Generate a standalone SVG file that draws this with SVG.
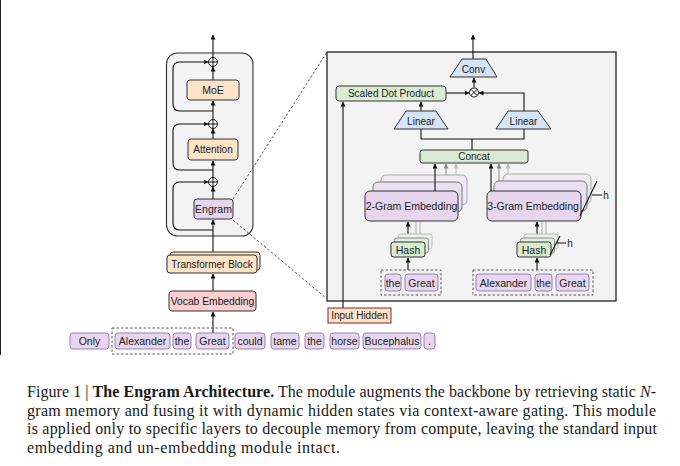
<svg xmlns="http://www.w3.org/2000/svg" width="680" height="466" viewBox="0 0 680 466">
<defs>
<marker id="ah" viewBox="0 0 10 10" refX="9" refY="5" markerWidth="5" markerHeight="5" orient="auto" markerUnits="userSpaceOnUse"><path d="M0,0 L10,5 L0,10 z" fill="#111"/></marker>
<marker id="ahg" viewBox="0 0 10 10" refX="9" refY="5" markerWidth="5" markerHeight="5" orient="auto" markerUnits="userSpaceOnUse"><path d="M0,0 L10,5 L0,10 z" fill="#888"/></marker>
<marker id="ahl" viewBox="0 0 10 10" refX="9" refY="5" markerWidth="5" markerHeight="5" orient="auto" markerUnits="userSpaceOnUse"><path d="M0,0 L10,5 L0,10 z" fill="#bbb"/></marker>
<style>
text{font-family:"Liberation Sans",Arial,sans-serif;fill:#222}
.lbl{font-size:10px;text-anchor:middle;dominant-baseline:central}
.tok{font-size:10.5px;text-anchor:middle;dominant-baseline:central}
.peach{fill:#fde3c8;stroke:#333;stroke-width:1}
.lav{fill:#e5d6ed;stroke:#333;stroke-width:1}
.lav2{fill:#ebe0f1;stroke:#777;stroke-width:1}
.lav3{fill:#f0e9f4;stroke:#aaa;stroke-width:1}
.tokr{fill:#e6d7ee;stroke:#9c7fb1;stroke-width:1}
.green{fill:#d9ecd3;stroke:#333;stroke-width:1}
.green2{fill:#e2f0de;stroke:#888;stroke-width:1}
.green3{fill:#eaf3e7;stroke:#bbb;stroke-width:1}
.blue{fill:#d5e4f6;stroke:#333;stroke-width:1}
.pink{fill:#f9cfcf;stroke:#333;stroke-width:1}
.ln{fill:none;stroke:#111;stroke-width:1.1}
.arr{fill:none;stroke:#111;stroke-width:1.1;marker-end:url(#ah)}
.arrg{fill:none;stroke:#888;stroke-width:1;marker-end:url(#ahg)}
.arrl{fill:none;stroke:#bbb;stroke-width:1;marker-end:url(#ahl)}
.gl{fill:none;stroke:#aaa;stroke-width:1}
.dash{fill:none;stroke:#555;stroke-width:1;stroke-dasharray:2.5,2}
.cap{font-family:"Liberation Serif","Times New Roman",serif;font-size:16px;fill:#1a1a1a}
</style>
</defs>

<line x1="0.5" y1="0" x2="0.5" y2="355" stroke="#222" stroke-width="1"/>

<!-- left backbone panel -->
<g id="backbone">
<rect x="166.5" y="53" width="86.5" height="183" rx="11" fill="#f3f3f3" stroke="#333" stroke-width="1.1"/>
</g>
<!-- right engram panel -->
<g id="engram-panel">
<rect x="327" y="52" width="289" height="249" fill="#f3f3f3" stroke="#333" stroke-width="1.4"/>
</g>

<g id="connectors">
<!-- zoom dashed lines -->
<line class="dash" x1="233" y1="199" x2="327" y2="52"/>
<line class="dash" x1="233" y1="220" x2="326" y2="298"/>
<!-- backbone main axis -->
<line class="arr" x1="213" y1="57.5" x2="213" y2="35"/>
<line class="arr" x1="213" y1="80" x2="213" y2="67"/>
<line class="arr" x1="213" y1="139" x2="213" y2="129"/>
<line class="arr" x1="213" y1="199" x2="213" y2="187"/>
<line class="arr" x1="213" y1="120" x2="213" y2="101"/>
<line class="arr" x1="213" y1="178" x2="213" y2="161"/>
<line class="arr" x1="213" y1="252" x2="213" y2="220"/>
<line class="arr" x1="213" y1="333" x2="213" y2="312"/>
<line class="arr" x1="213" y1="291" x2="213" y2="274"/>
<!-- skip loops -->
<path class="arr" d="M213,111 H180 Q173,111 173,104 V69 Q173,62 180,62 H208"/>
<path class="arr" d="M213,170 H180 Q173,170 173,163 V131 Q173,124 180,124 H208"/>
<path class="arr" d="M213,230 H180 Q173,230 173,223 V189 Q173,182 180,182 H208"/>

<!-- engram internals -->
<line class="arr" x1="473" y1="60" x2="473" y2="35"/>
<line class="arr" x1="474" y1="87.5" x2="474" y2="78"/>
<line class="arr" x1="446" y1="93" x2="469" y2="93"/>
<path class="arr" d="M524,111 V93 H479"/>
<line class="arr" x1="421" y1="111" x2="421" y2="102"/>
<path class="ln" d="M421,129 V139 H524 V129 M472,139 V150"/>
<line class="arr" x1="343" y1="308" x2="343" y2="102"/>
<!-- to concat -->
<line class="arrl" x1="456" y1="175" x2="456" y2="164"/>
<line class="arrg" x1="446" y1="182" x2="446" y2="164"/>
<line class="arrl" x1="508" y1="174" x2="508" y2="164"/>
<line class="arrg" x1="499" y1="181" x2="499" y2="164"/>
<!-- hash to embedding -->
<line class="gl" x1="416" y1="238" x2="416" y2="221"/>
<line class="gl" x1="420" y1="234" x2="420" y2="221"/>
<line class="arr" x1="408" y1="242" x2="408" y2="222"/>
<line class="gl" x1="542" y1="238" x2="542" y2="221"/>
<line class="gl" x1="546" y1="234" x2="546" y2="221"/>
<line class="arr" x1="537" y1="242" x2="537" y2="222"/>
<!-- tokens to hash -->
<line class="arr" x1="408" y1="270" x2="408" y2="258"/>
<line class="arr" x1="537" y1="270" x2="537" y2="258"/>
</g>

<!-- plus circles -->
<g id="add1"><circle cx="213" cy="62" r="4.5" fill="#fff" stroke="#111" stroke-width="1"/><path d="M208.5,62 H217.5 M213,57.5 V66.5" stroke="#111" stroke-width="1"/></g>
<g id="add2"><circle cx="213" cy="124" r="4.5" fill="#fff" stroke="#111" stroke-width="1"/><path d="M208.5,124 H217.5 M213,119.5 V128.5" stroke="#111" stroke-width="1"/></g>
<g id="add3"><circle cx="213" cy="182" r="4.5" fill="#fff" stroke="#111" stroke-width="1"/><path d="M208.5,182 H217.5 M213,177.5 V186.5" stroke="#111" stroke-width="1"/></g>

<g id="moe"><rect class="peach" x="187" y="80" width="52" height="20" rx="3"/><text class="lbl" x="213" y="90" style="font-size:10.5px">MoE</text></g>
<g id="attention"><rect class="peach" x="188" y="139" width="50" height="21" rx="3"/><text class="lbl" x="213" y="149.5">Attention</text></g>
<g id="engram"><rect class="lav" x="194" y="199" width="39" height="20" rx="3"/><text class="lbl" x="213.5" y="209" style="font-size:10.5px">Engram</text></g>
<g id="transformer-block">
<rect class="peach" x="170" y="252" width="90" height="18" rx="3"/>
<rect class="peach" x="167" y="255" width="90" height="18" rx="3"/>
<text class="lbl" x="212" y="264">Transformer Block</text></g>
<g id="vocab-embedding"><rect class="pink" x="169" y="291" width="87" height="20" rx="3"/><text class="lbl" x="212.5" y="301" style="font-size:10.3px">Vocab Embedding</text></g>

<!-- token row -->
<g id="tokens">
<rect class="dash" x="112" y="328" width="121" height="26"/>
<rect class="tokr" x="70" y="333" width="39" height="16" rx="3"/><text class="tok" x="89.5" y="341">Only</text>
<rect class="tokr" x="115" y="333" width="55" height="16" rx="3"/><text class="tok" x="142.5" y="341">Alexander</text>
<rect class="tokr" x="173" y="333" width="18" height="16" rx="3"/><text class="tok" x="182" y="341">the</text>
<rect class="tokr" x="196" y="333" width="33" height="16" rx="3"/><text class="tok" x="212.5" y="341">Great</text>
<rect class="tokr" x="235" y="333" width="30" height="16" rx="3"/><text class="tok" x="250" y="341">could</text>
<rect class="tokr" x="271" y="333" width="28" height="16" rx="3"/><text class="tok" x="285" y="341">tame</text>
<rect class="tokr" x="305" y="333" width="19" height="16" rx="3"/><text class="tok" x="314.5" y="341">the</text>
<rect class="tokr" x="330" y="333" width="29" height="16" rx="3"/><text class="tok" x="344.5" y="341">horse</text>
<rect class="tokr" x="363" y="333" width="58" height="16" rx="3"/><text class="tok" x="392" y="341">Bucephalus</text>
<rect class="tokr" x="424" y="333" width="11" height="16" rx="3"/><text class="tok" x="429.5" y="341">.</text>
</g>

<!-- engram module nodes -->
<g id="conv"><path class="blue" d="M462,59 H486 L497,77 H450 Z"/><text class="lbl" x="473.5" y="69.5">Conv</text></g>
<g id="gate"><circle cx="474" cy="92.5" r="4.5" fill="#fff" stroke="#111" stroke-width="1"/><path d="M470.8,89.3 L477.2,95.7 M477.2,89.3 L470.8,95.7" stroke="#111" stroke-width="1"/></g>
<g id="sdp"><rect class="green" x="336" y="86" width="110" height="15" rx="3"/><text class="lbl" x="391" y="93.5">Scaled Dot Product</text></g>
<g id="linear-left"><path class="blue" d="M406,111 H436 L448,129 H394 Z"/><text class="lbl" x="421" y="121">Linear</text></g>
<g id="linear-right"><path class="blue" d="M508,111 H538 L551,129 H496 Z"/><text class="lbl" x="523.5" y="121">Linear</text></g>
<g id="concat"><rect class="green" x="420" y="150" width="108" height="13" rx="2.5"/><text class="lbl" x="474" y="156.5">Concat</text></g>

<g id="gram2-embedding">
<rect class="lav3" x="381" y="175" width="86" height="30" rx="5"/>
<rect class="lav2" x="373" y="182" width="89" height="30" rx="5"/>
<rect class="lav" x="365" y="191" width="93" height="30" rx="5"/>
<line class="arr" x1="435" y1="191" x2="435" y2="164"/>
<text class="lbl" x="411.5" y="206" style="font-size:10.5px">2-Gram Embedding</text>
</g>
<g id="gram3-embedding">
<rect class="lav3" x="503" y="174" width="88" height="30" rx="5"/>
<rect class="lav2" x="494" y="181" width="93" height="30" rx="5"/>
<rect class="lav" x="487" y="191" width="94" height="30" rx="5"/>
<line class="arr" x1="491" y1="191" x2="491" y2="164"/>
<text class="lbl" x="533" y="206" style="font-size:10.5px">3-Gram Embedding</text>
<path class="ln" d="M580,216 L597,181 M592,195 H602"/>
<text class="lbl" x="606" y="195">h</text>
</g>
<g id="hash-left">
<rect class="green3" x="398" y="234" width="34" height="15" rx="2.5"/>
<rect class="green2" x="394.5" y="238" width="34" height="15" rx="2.5"/>
<rect class="green" x="391" y="242" width="34" height="15" rx="2.5"/>
<text class="lbl" x="408" y="249.5" style="font-size:10.5px">Hash</text>
</g>
<g id="hash-right">
<rect class="green3" x="524" y="234" width="34" height="15" rx="2.5"/>
<rect class="green2" x="520.5" y="238" width="34" height="15" rx="2.5"/>
<rect class="green" x="517" y="242" width="34" height="15" rx="2.5"/>
<text class="lbl" x="534" y="249.5" style="font-size:10.5px">Hash</text>
<path class="ln" d="M550,255 L560,236 M556,243 H566"/>
<text class="lbl" x="570" y="243">h</text>
</g>
<g id="tokens-2gram">
<rect class="dash" x="381" y="270" width="60" height="25"/>
<rect class="tokr" x="385" y="274" width="16" height="17" rx="3"/><text class="tok" x="393" y="282.5">the</text>
<rect class="tokr" x="405" y="274" width="33" height="17" rx="3"/><text class="tok" x="421.5" y="282.5">Great</text>
</g>
<g id="tokens-3gram">
<rect class="dash" x="473" y="270" width="120" height="25"/>
<rect class="tokr" x="476" y="274" width="55" height="17" rx="3"/><text class="tok" x="503.5" y="282.5">Alexander</text>
<rect class="tokr" x="535" y="274" width="17" height="17" rx="3"/><text class="tok" x="543.5" y="282.5">the</text>
<rect class="tokr" x="556" y="274" width="33" height="17" rx="3"/><text class="tok" x="572.5" y="282.5">Great</text>
</g>
<g id="input-hidden"><rect x="328" y="308" width="63" height="15" fill="#fde3c8" stroke="#7b2a2a" stroke-width="1"/><text class="lbl" x="359.5" y="315.5">Input Hidden</text></g>

<!-- caption -->
<g id="caption">
<text class="cap" x="27" y="397" textLength="629" lengthAdjust="spacing">Figure 1 | <tspan font-weight="bold">The Engram Architecture.</tspan> The module augments the backbone by retrieving static <tspan font-style="italic">N</tspan>-</text>
<text class="cap" x="27" y="415.5" textLength="629" lengthAdjust="spacing">gram memory and fusing it with dynamic hidden states via context-aware gating. This module</text>
<text class="cap" x="27" y="434" textLength="630" lengthAdjust="spacing">is applied only to specific layers to decouple memory from compute, leaving the standard input</text>
<text class="cap" x="27" y="452.5" textLength="313" lengthAdjust="spacing">embedding and un-embedding module intact.</text>
</g>
</svg>
